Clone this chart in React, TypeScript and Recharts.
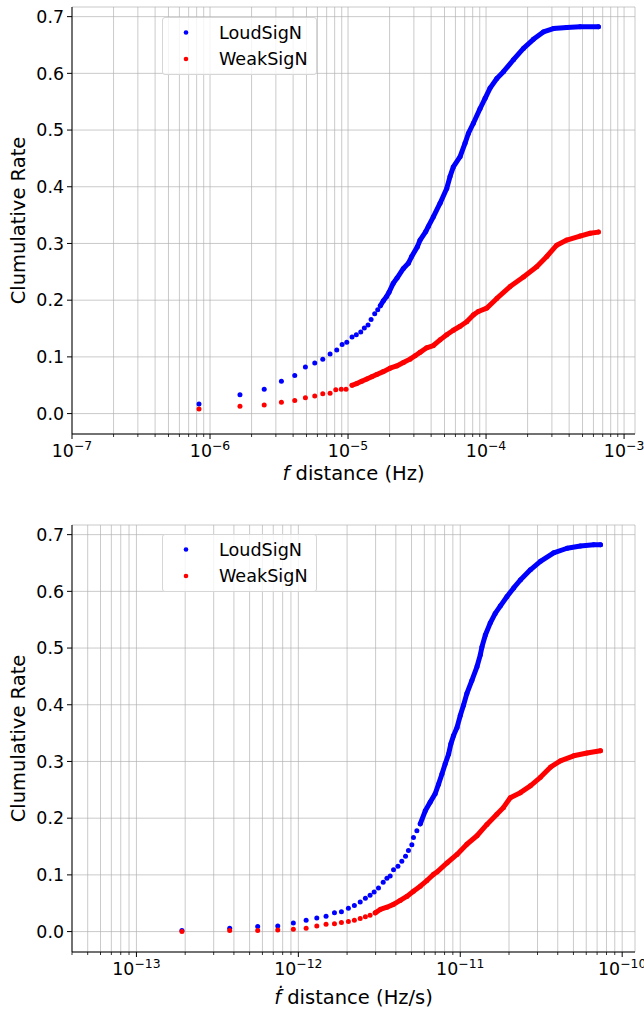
import React from 'react';
import { ScatterChart, Scatter, XAxis, YAxis, CartesianGrid, Legend } from 'recharts';

const FONT = '"DejaVu Sans", "Liberation Sans", sans-serif';
const BLUE = '#0000ff';
const RED = '#ff0000';

// ---------- data: top chart (f distance, Hz) ----------
const fLoud: [number, number][] = [
  [8.32e-7, 0.017], [1.648e-6, 0.033], [2.47e-6, 0.043], [3.29e-6, 0.057], [4.11e-6, 0.067],
  [4.91e-6, 0.082], [5.74e-6, 0.089], [6.56e-6, 0.096], [7.41e-6, 0.105], [8.28e-6, 0.112],
  [9.06e-6, 0.122], [9.79e-6, 0.126], [1.069e-5, 0.135], [1.148e-5, 0.139], [1.236e-5, 0.144],
  [1.312e-5, 0.151], [1.396e-5, 0.156], [1.469e-5, 0.166], [1.56e-5, 0.176], [1.641e-5, 0.183],
  [1.714e-5, 0.19], [1.803e-5, 0.199], [1.897e-5, 0.206], [1.982e-5, 0.214], [2.128e-5, 0.23],
  [2.265e-5, 0.239], [2.518e-5, 0.256], [2.735e-5, 0.265], [2.891e-5, 0.277], [3.177e-5, 0.294],
  [3.327e-5, 0.306], [3.656e-5, 0.321], [3.819e-5, 0.33], [4.15e-5, 0.347], [4.645e-5, 0.371],
  [5.188e-5, 0.397], [5.483e-5, 0.418], [5.794e-5, 0.435], [6.486e-5, 0.453], [7.047e-5, 0.477],
  [7.447e-5, 0.494], [8.091e-5, 0.512], [9.057e-5, 0.538], [9.84e-5, 0.556], [1.069e-4, 0.574],
  [1.197e-4, 0.591], [1.337e-4, 0.603], [1.581e-4, 0.624], [1.866e-4, 0.644], [2.203e-4, 0.66],
  [2.6e-4, 0.673], [3.076e-4, 0.679], [3.846e-4, 0.681], [4.797e-4, 0.682], [6.516e-4, 0.682],
];
const F_LOUD_DENSE_FROM = 20;

const fWeak: [number, number][] = [
  [8.32e-7, 0.008], [1.648e-6, 0.013], [2.47e-6, 0.015], [3.29e-6, 0.02], [4.11e-6, 0.023],
  [4.91e-6, 0.028], [5.74e-6, 0.031], [6.56e-6, 0.035], [7.41e-6, 0.036], [8.15e-6, 0.042],
  [8.93e-6, 0.043], [9.68e-6, 0.043],
  [1.069e-5, 0.05], [1.156e-5, 0.053], [1.256e-5, 0.057], [1.368e-5, 0.061], [1.486e-5, 0.065],
  [1.614e-5, 0.069], [1.803e-5, 0.074], [2.014e-5, 0.08], [2.254e-5, 0.084], [2.518e-5, 0.09],
  [2.812e-5, 0.096], [3.062e-5, 0.102], [3.327e-5, 0.108], [3.715e-5, 0.116], [4.15e-5, 0.12],
  [4.645e-5, 0.13], [5.188e-5, 0.139], [5.794e-5, 0.147], [6.486e-5, 0.154], [7.244e-5, 0.162],
  [8.091e-5, 0.174], [8.79e-5, 0.18], [1.012e-4, 0.186], [1.197e-4, 0.203], [1.493e-4, 0.224],
  [1.866e-4, 0.241], [2.328e-4, 0.259], [2.754e-4, 0.277], [3.251e-4, 0.297], [3.846e-4, 0.306],
  [4.797e-4, 0.313], [5.675e-4, 0.318], [6.516e-4, 0.32],
];
const F_WEAK_DENSE_FROM = 12;

// ---------- data: bottom chart (fdot distance, Hz/s) ----------
const fdLoud: [number, number][] = [
  [1.91e-13, 0.002], [3.767e-13, 0.006], [5.61e-13, 0.009], [7.464e-13, 0.01], [9.311e-13, 0.015],
  [1.117e-12, 0.02], [1.3e-12, 0.024], [1.483e-12, 0.027], [1.671e-12, 0.033], [1.845e-12, 0.035],
  [2.037e-12, 0.041], [2.218e-12, 0.046], [2.41e-12, 0.052], [2.594e-12, 0.059], [2.773e-12, 0.064],
  [2.938e-12, 0.07], [3.126e-12, 0.077], [3.342e-12, 0.087], [3.524e-12, 0.094], [3.69e-12, 0.098],
  [3.873e-12, 0.109], [4.121e-12, 0.115], [4.355e-12, 0.124], [4.592e-12, 0.133], [4.786e-12, 0.143],
  [5.023e-12, 0.153], [5.14e-12, 0.166], [5.395e-12, 0.178],
  [5.662e-12, 0.19], [6.081e-12, 0.213], [6.516e-12, 0.228], [6.998e-12, 0.243], [7.345e-12, 0.26],
  [7.709e-12, 0.278], [8.072e-12, 0.296], [8.472e-12, 0.313], [8.75e-12, 0.331], [9.099e-12, 0.346],
  [9.55e-12, 0.36], [1.0e-11, 0.381], [1.047e-11, 0.399], [1.099e-11, 0.42], [1.18e-11, 0.443],
  [1.268e-11, 0.467], [1.33e-11, 0.488], [1.361e-11, 0.502], [1.429e-11, 0.523], [1.531e-11, 0.544],
  [1.644e-11, 0.561], [1.766e-11, 0.574], [1.945e-11, 0.591], [2.138e-11, 0.606], [2.35e-11, 0.62],
  [2.71e-11, 0.638], [3.126e-11, 0.653], [3.776e-11, 0.668], [4.571e-11, 0.676], [5.521e-11, 0.68],
  [6.668e-11, 0.682], [7.345e-11, 0.682],
];
const FD_LOUD_DENSE_FROM = 28;

const fdWeak: [number, number][] = [
  [1.91e-13, 0.0], [3.767e-13, 0.002], [5.61e-13, 0.002], [7.464e-13, 0.003], [9.311e-13, 0.004],
  [1.117e-12, 0.006], [1.3e-12, 0.01], [1.483e-12, 0.013], [1.671e-12, 0.014], [1.845e-12, 0.016],
  [2.037e-12, 0.018], [2.218e-12, 0.02], [2.41e-12, 0.023], [2.594e-12, 0.026], [2.773e-12, 0.029],
  [2.985e-12, 0.033], [3.206e-12, 0.039], [3.524e-12, 0.043], [3.873e-12, 0.048], [4.256e-12, 0.055],
  [4.677e-12, 0.062], [5.14e-12, 0.071], [5.662e-12, 0.08], [6.223e-12, 0.09], [6.839e-12, 0.101],
  [7.178e-12, 0.105], [8.279e-12, 0.121], [9.55e-12, 0.136], [1.099e-11, 0.154], [1.268e-11, 0.169],
  [1.462e-11, 0.189], [1.683e-11, 0.207], [1.849e-11, 0.219], [2.037e-11, 0.236], [2.35e-11, 0.245],
  [2.71e-11, 0.257], [3.126e-11, 0.272], [3.606e-11, 0.29], [4.15e-11, 0.301], [5.023e-11, 0.31],
  [6.067e-11, 0.315], [7.345e-11, 0.319],
];
const FD_WEAK_DENSE_FROM = 15;

// ---------- axes ----------
const seriesNames = ['LoudSigN', 'WeakSigN'];
const yTicks = [0, 0.1, 0.2, 0.3, 0.4, 0.5, 0.6, 0.7];
const yDomain: [number, number] = [-0.036, 0.717];
const fMajor = [1e-7, 1e-6, 1e-5, 1e-4, 1e-3];
const fDomain: [number, number] = [1e-7, 1.2e-3];
const fdMajor = [1e-13, 1e-12, 1e-11, 1e-10];
const fdDomain: [number, number] = [4e-14, 1.2e-10];

const withMinors = (majors: number[], dom: [number, number]) => {
  const out: number[] = [];
  const lo = majors[0] / 10;
  [lo, ...majors].forEach((d) => {
    for (let k = 1; k <= 9; k++) {
      const v = k * d;
      if (v >= dom[0] * 0.999 && v <= dom[1]) out.push(v);
    }
  });
  return Array.from(new Set(out)).sort((a, b) => a - b);
};

const toPts = (arr: [number, number][]) => arr.map(([x, y]) => ({ x, y }));

const TICK_FS = 17.4;
const LABEL_FS = 19.5;

const XTick = (props: any) => {
  const { x, y, payload } = props;
  const v = payload.value;
  const lg = Math.log10(v);
  const exp = Math.round(lg);
  const major = Math.abs(lg - exp) < 1e-6;
  return (
    <g>
      <line x1={x} x2={x} y1={y} y2={y + (major ? 5 : 3)} stroke="#000" strokeWidth={major ? 1 : 0.8} />
      {major && (
        <text x={x} y={y + 23} textAnchor="middle" fontFamily={FONT} fontSize={TICK_FS} fill="#000">
          10
          <tspan dy={-7.5} fontSize={12.4}>{'\u2212' + Math.abs(exp)}</tspan>
        </text>
      )}
    </g>
  );
};

const YTick = (props: any) => {
  const { x, y, payload } = props;
  return (
    <g>
      <line x1={x - 5} x2={x} y1={y} y2={y} stroke="#000" strokeWidth={1} />
      <text x={x - 8} y={y} dy="0.36em" textAnchor="end" fontFamily={FONT} fontSize={TICK_FS} fill="#000">
        {Number(payload.value).toFixed(1)}
      </text>
    </g>
  );
};

const makeDot = (color: string) => (p: any) => <circle cx={p.cx} cy={p.cy} r={2.5} fill={color} />;

const LegendBox = () => (
  <div
    style={{
      width: 155,
      height: 58,
      boxSizing: 'border-box',
      border: '1px solid #d6d6d6',
      borderRadius: 3,
      background: 'rgba(255,255,255,0.8)',
    }}
  >
    <svg width={153} height={56} style={{ display: 'block' }}>
      <circle cx={23} cy={14.5} r={2.3} fill={BLUE} />
      <text x={56} y={20.5} fontFamily={FONT} fontSize={17.6} fill="#000">{seriesNames[0]}</text>
      <circle cx={23} cy={41} r={2.3} fill={RED} />
      <text x={56} y={47} fontFamily={FONT} fontSize={17.6} fill="#000">{seriesNames[1]}</text>
    </svg>
  </div>
);

interface PanelProps {
  loud: [number, number][];
  weak: [number, number][];
  loudSplit: number;
  weakSplit: number;
  domain: [number, number];
  majors: number[];
  height: number;
  marginTop: number;
  marginBottom: number;
  xLabelOffset: number;
  xLabel: React.ReactNode;
  legendTop: number;
}

const Panel = (p: PanelProps) => {
  const ticks = withMinors(p.majors, p.domain);
  const blueDot = makeDot(BLUE);
  const redDot = makeDot(RED);
  const lineStyle = (c: string) => ({ stroke: c, strokeWidth: 5, strokeLinecap: 'round', strokeLinejoin: 'round' });
  return (
    <ScatterChart
      width={644}
      height={p.height}
      margin={{ top: p.marginTop, right: 9, bottom: p.marginBottom, left: 0 }}
    >
      <XAxis
        dataKey="x"
        type="number"
        scale="log"
        domain={p.domain}
        allowDataOverflow
        ticks={ticks}
        interval={0}
        tick={XTick}
        tickLine={false}
        tickSize={0}
        tickMargin={0}
        axisLine={{ stroke: '#000', strokeWidth: 1 }}
        height={50}
        label={(lp: any) => {
          const vb = lp && lp.viewBox ? lp.viewBox : { x: 72, y: p.height - p.marginBottom - 50, width: 563 };
          return (
            <text
              x={vb.x + vb.width / 2}
              y={vb.y + p.xLabelOffset}
              textAnchor="middle"
              fontFamily={FONT}
              fontSize={LABEL_FS}
              fill="#000"
            >
              {p.xLabel}
            </text>
          );
        }}
      />
      <XAxis xAxisId="top" orientation="top" type="number" domain={[0, 1]} tick={false} tickLine={false} axisLine={{ stroke: '#000', strokeWidth: 1 }} height={0} />
      <YAxis
        dataKey="y"
        type="number"
        domain={yDomain}
        allowDataOverflow
        ticks={yTicks}
        interval={0}
        tick={YTick}
        tickLine={false}
        tickSize={0}
        tickMargin={0}
        axisLine={{ stroke: '#000', strokeWidth: 1 }}
        width={72}
        label={(lp: any) => {
          const vb = lp && lp.viewBox ? lp.viewBox : { x: 0, y: p.marginTop, height: 427 };
          const cy = vb.y + vb.height / 2;
          return (
            <text
              x={25}
              y={cy}
              transform={`rotate(-90, 25, ${cy})`}
              textAnchor="middle"
              fontFamily={FONT}
              fontSize={LABEL_FS}
              fill="#000"
            >
              Clumulative Rate
            </text>
          );
        }}
      />
      <YAxis yAxisId="right" orientation="right" type="number" domain={[0, 1]} tick={false} tickLine={false} axisLine={{ stroke: '#000', strokeWidth: 1 }} width={0} />
      <Scatter name={seriesNames[0]} data={toPts(p.loud.slice(0, p.loudSplit))} fill={BLUE} shape={blueDot} isAnimationActive={false} />
      <Scatter
        data={toPts(p.loud.slice(p.loudSplit))}
        fill={BLUE}
        shape={blueDot}
        line={lineStyle(BLUE) as any}
        legendType="none"
        isAnimationActive={false}
      />
      <Scatter name={seriesNames[1]} data={toPts(p.weak.slice(0, p.weakSplit))} fill={RED} shape={redDot} isAnimationActive={false} />
      <Scatter
        data={toPts(p.weak.slice(p.weakSplit))}
        fill={RED}
        shape={redDot}
        line={lineStyle(RED) as any}
        legendType="none"
        isAnimationActive={false}
      />
      <CartesianGrid stroke="#b0b0b0" strokeWidth={0.8} strokeOpacity={0.85} />
      <Legend
        layout="horizontal"
        verticalAlign="middle"
        align="center"
        content={() => <LegendBox />}
        wrapperStyle={{ position: 'absolute', left: 162, top: p.legendTop, width: 155, height: 58 }}
      />
    </ScatterChart>
  );
};

export default function App() {
  return (
    <div style={{ position: 'absolute', left: 0, top: 0, width: 644, height: 1011, background: '#fff', overflow: 'hidden' }}>
      <div style={{ position: 'absolute', left: 0, top: 0 }}>
        <Panel
          loud={fLoud}
          weak={fWeak}
          loudSplit={F_LOUD_DENSE_FROM}
          weakSplit={F_WEAK_DENSE_FROM}
          domain={fDomain}
          majors={fMajor}
          height={505}
          marginTop={7}
          marginBottom={21}
          xLabelOffset={46}
          xLabel={[<tspan key="f" fontStyle="italic">f</tspan>, ' distance (Hz)']}
          legendTop={17}
        />
      </div>
      <div style={{ position: 'absolute', left: 0, top: 505 }}>
        <Panel
          loud={fdLoud}
          weak={fdWeak}
          loudSplit={FD_LOUD_DENSE_FROM}
          weakSplit={FD_WEAK_DENSE_FROM}
          domain={fdDomain}
          majors={fdMajor}
          height={506}
          marginTop={20}
          marginBottom={9}
          xLabelOffset={52}
          xLabel={[<tspan key="f" fontStyle="italic">{'\u1E1F'}</tspan>, ' distance (Hz/s)']}
          legendTop={29}
        />
      </div>
    </div>
  );
}
